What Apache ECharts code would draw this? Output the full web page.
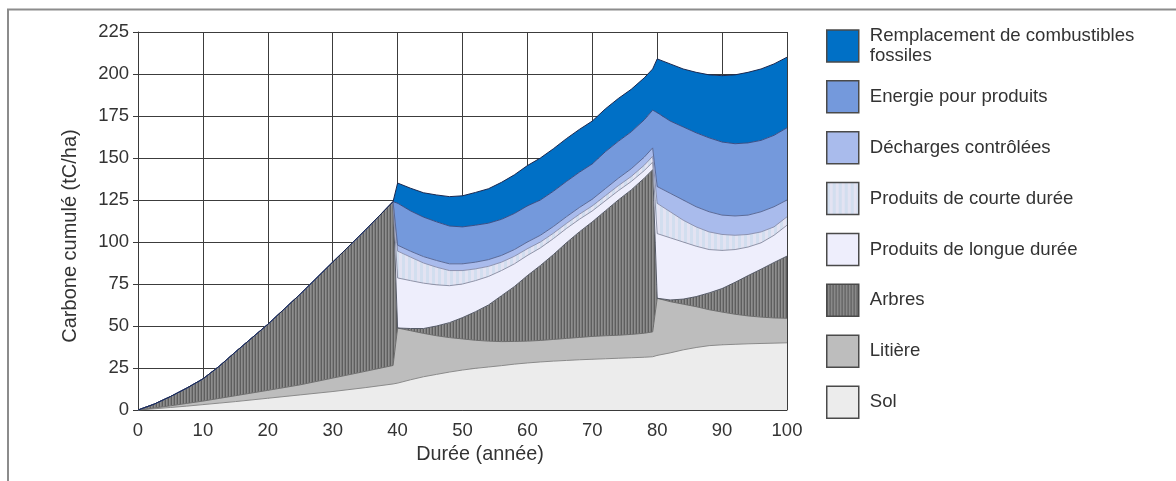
<!DOCTYPE html>
<html>
<head>
<meta charset="utf-8">
<script src="https://cdn.jsdelivr.net/npm/echarts@6/dist/echarts.min.js"></script>
<style>
  html, body { margin: 0; padding: 0; background: #ffffff; }
  #chart { width: 1176px; height: 481px; }
</style>
</head>
<body>
<div id="chart"></div>
<script>
// Years sampled over the 100-year horizon (harvests just before 40 and 80)
const years = [0, 2.5, 5, 7.5, 10, 12.5, 15, 20, 25, 30, 35, 39.3,
  40, 42, 44, 46, 48, 50, 52, 54, 56, 58, 60, 62, 64, 66, 68, 70, 72, 74, 76, 78, 79.3,
  80, 82, 84, 86, 88, 90, 92, 94, 96, 98, 100];

// Carbon held in each pool (tC/ha), stacked from the ground up
const sol = [0, 0.7, 1.5, 2.3, 3.2, 4.1, 5, 7, 9, 11, 13.3, 15.5,
  16, 18, 19.8, 21.2, 22.6, 23.8, 24.8, 25.6, 26.4, 27.3, 28, 28.6, 29.1, 29.5, 29.9, 30.2, 30.5, 30.8, 31.1, 31.4, 31.7,
  32.5, 34, 35.8, 37.2, 38.3, 38.8, 39.1, 39.4, 39.6, 39.8, 40];

const litiere = [0, 0.5, 1.0, 1.6, 2.1, 2.8, 3.5, 4.7, 6, 8, 9.7, 11,
  32.8, 29.2, 25.8, 23, 20.5, 18.5, 16.7, 15.4, 14.3, 13.5, 13, 12.8, 12.9, 13.1, 13.3, 13.6, 13.7, 13.7, 13.9, 14.3, 14.8,
  34, 30.5, 27.2, 24.3, 21.4, 19.5, 17.9, 16.6, 15.7, 15, 14.6];

const arbres = [0, 2.3, 5.5, 9.1, 13.2, 19.1, 26, 39.3, 54, 69, 84, 97.5,
  0, 1.3, 2.9, 5.8, 8.9, 12.7, 17, 21.5, 27.3, 32.7, 39, 44.6, 50.5, 56.9, 62.8, 68.2, 74.3, 80.5, 86, 92.3, 96.5,
  0, 1, 3, 6, 10, 14, 19, 24, 28.5, 33, 37];

const longueDuree = [0, 0, 0, 0, 0, 0, 0, 0, 0, 0, 0, 0,
  29.8, 28.5, 27, 24.5, 22, 20, 18.5, 17, 15, 13.5, 12, 10.5, 9.5, 8.5, 7.5, 6.5, 6, 5.5, 5, 4.5, 4.5,
  38.5, 37, 34, 30, 25.8, 22.7, 19.5, 17, 15.7, 16.2, 18.4];

const courteDuree = [0, 0, 0, 0, 0, 0, 0, 0, 0, 0, 0, 0,
  16, 14, 12, 10.5, 9, 8, 7, 6, 5, 4.5, 4, 3.5, 3.2, 3, 3, 3, 3, 3, 3, 3.2, 3.5,
  18, 15.5, 13, 11.5, 10.5, 9.5, 8.5, 7.5, 6.5, 5, 5];

const decharges = [0, 0, 0, 0, 0, 0, 0, 0, 0, 0, 0, 0,
  3.5, 3.5, 3.8, 4, 4, 4, 4, 4, 4, 4, 4, 4, 4, 4, 4, 4, 4.2, 4.4, 4.6, 4.8, 5,
  10, 11, 12, 12, 12, 11.5, 11.5, 11.5, 12, 12, 10];

const energie = [0, 0, 0, 0, 0, 0, 0, 0, 0, 0, 0, 0,
  25, 24, 23.5, 23, 22.5, 22, 22, 21.7, 21.5, 21.5, 21.5, 21, 21, 21, 21, 21, 22, 22, 22, 22.2, 22.5,
  44, 43, 43.5, 44, 44, 43.5, 43, 43, 42.5, 42.5, 43];

const remplacement = [0, 0, 0, 0, 0, 0, 0, 0, 0, 0, 0, 0,
  12, 13.5, 14.5, 16, 17.5, 18.5, 19.5, 20.5, 22, 23, 24, 25, 25.3, 25.5, 25.5, 25.5, 25.5, 25.5, 25.3, 25, 24.5,
  32, 34, 34.5, 36, 37.5, 39.5, 41, 42, 42.5, 42.5, 42];

const xTicks = [0, 10, 20, 30, 40, 50, 60, 70, 80, 90, 100];
const yTicks = [0, 25, 50, 75, 100, 125, 150, 175, 200, 225];

const FONT = 'Liberation Sans, Arial, Helvetica, sans-serif';

// Vertical-stripe fills (trees, short-lived products)
function stripes(colors, w) {
  const c = document.createElement('canvas');
  c.width = colors.length * w;
  c.height = 4;
  const ctx = c.getContext('2d');
  colors.forEach((col, i) => { ctx.fillStyle = col; ctx.fillRect(i * w, 0, w, 4); });
  return { image: c, repeat: 'repeat' };
}
const arbresFill = stripes(['#5e5e5e', '#8e8e8e', '#7c7c7c'], 1);
const courteFill = stripes(['#d2deef', '#e3e3f2'], 3);

const layers = [
  { name: 'Sol', values: sol, fill: '#ececec', line: '#8a8a8a' },
  { name: 'Litière', values: litiere, fill: '#bdbdbd', line: '#6e6e6e' },
  { name: 'Arbres', values: arbres, fill: arbresFill, line: '#555a66' },
  { name: 'Produits de longue durée', values: longueDuree, fill: '#eeeefc', line: '#8f93a8' },
  { name: 'Produits de courte durée', values: courteDuree, fill: courteFill, line: '#8c92b0' },
  { name: 'Décharges contrôlées', values: decharges, fill: '#a9bbec', line: '#5a6a98' },
  { name: 'Energie pour produits', values: energie, fill: '#7499dc', line: '#3c4f86' },
  { name: 'Remplacement de combustibles fossiles', values: remplacement, fill: '#0070c6', line: '#1a2850' }
];

function legendItem(l) {
  return { name: l.name, icon: 'rect', itemStyle: { color: l.fill, borderColor: '#4a4a4a', borderWidth: 1.5 } };
}
const byName = {};
layers.forEach(l => { byName[l.name] = l; });

// Value column first so the stack accumulates on the y dimension
const series = layers.map(l => ({
  name: l.name,
  type: 'line',
  stack: 'carbone',
  symbol: 'none',
  showSymbol: false,
  smooth: false,
  animation: false,
  silent: true,
  encode: { x: 1, y: 0 },
  itemStyle: { color: typeof l.fill === 'string' ? l.fill : '#7c7c7c' },
  lineStyle: { width: 1, color: l.line },
  areaStyle: { color: l.fill, opacity: 1 },
  emphasis: { disabled: true },
  data: years.map((x, i) => [l.values[i], x])
}));

const legendText = { fontFamily: FONT, fontSize: 18.6, color: '#333333', padding: [0, 0, 0, 6] };

const option = {
  backgroundColor: '#ffffff',
  animation: false,
  grid: { left: 138, right: 389, top: 32, bottom: 71, outerBoundsMode: 'none' },
  xAxis: {
    type: 'value', min: 0, max: 100, interval: 10,
    axisLine: { show: true, lineStyle: { color: '#3a3a3a', width: 1 } },
    axisTick: { show: false },
    axisLabel: { margin: 11, fontFamily: FONT, fontSize: 18.5, color: '#333333',
      formatter: v => xTicks.includes(v) ? String(v) : '' },
    splitLine: { show: true, lineStyle: { color: '#3c3c3c', width: 1 } }
  },
  yAxis: {
    type: 'value', min: 0, max: 225, interval: 25,
    axisLine: { show: true, lineStyle: { color: '#3a3a3a', width: 1 } },
    axisTick: { show: true, length: 5, lineStyle: { color: '#3a3a3a' } },
    axisLabel: { margin: 9, fontFamily: FONT, fontSize: 18.5, color: '#333333',
      formatter: v => yTicks.includes(v) ? String(v) : '' },
    splitLine: { show: true, lineStyle: { color: '#3c3c3c', width: 1 } }
  },
  legend: [
    {
      orient: 'vertical', left: 826, top: 26, padding: 0,
      itemWidth: 32, itemHeight: 32, selectedMode: false,
      textStyle: Object.assign({ lineHeight: 20 }, legendText),
      formatter: n => n.replace('combustibles ', 'combustibles\n'),
      data: [legendItem(byName['Remplacement de combustibles fossiles'])]
    },
    {
      orient: 'vertical', left: 826, top: 80, padding: 0,
      itemWidth: 32, itemHeight: 32, itemGap: 17.4, selectedMode: false,
      textStyle: Object.assign({ lineHeight: 20 }, legendText),
      data: ['Energie pour produits', 'Décharges contrôlées', 'Produits de courte durée',
        'Produits de longue durée', 'Arbres', 'Litière', 'Sol'].map(n => legendItem(byName[n]))
    }
  ],
  graphic: [
    { type: 'rect', silent: true, z: 100,
      shape: { x: 8, y: 9.5, width: 1400, height: 700 },
      style: { fill: 'none', stroke: '#8c8c8c', lineWidth: 2 } },
    { type: 'text', silent: true, x: 70, y: 236, rotation: Math.PI / 2,
      style: { text: 'Carbone cumulé (tC/ha)', fontFamily: FONT, fontSize: 20, fill: '#333333',
        align: 'center', verticalAlign: 'middle' } },
    { type: 'text', silent: true, x: 480, y: 455,
      style: { text: 'Durée (année)', fontFamily: FONT, fontSize: 19.8, fill: '#333333',
        align: 'center', verticalAlign: 'middle' } }
  ],
  series: series
};

const chart = echarts.init(document.getElementById('chart'), null, { renderer: 'canvas' });
chart.setOption(option);
</script>
</body>
</html>
